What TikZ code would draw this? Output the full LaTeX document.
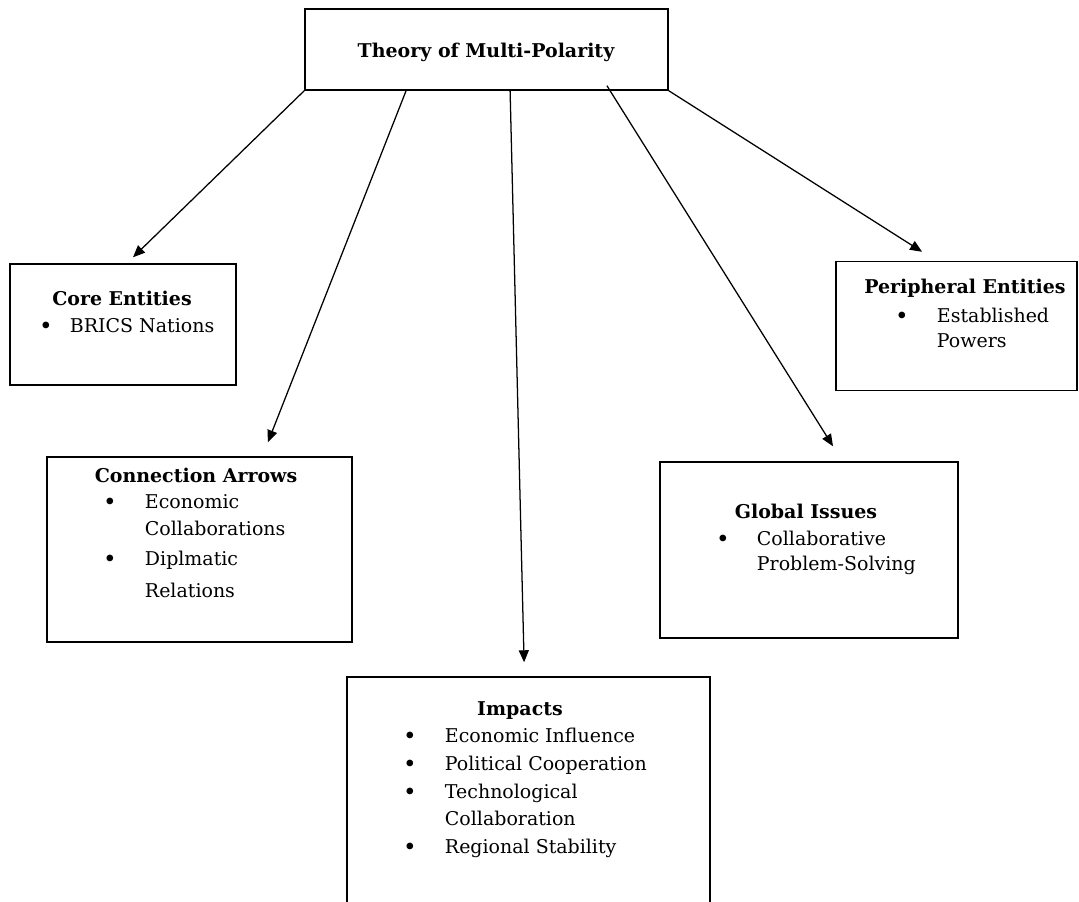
\documentclass[tikz,border=0pt]{standalone}
\usepackage{fontspec}
\setmainfont{DejaVu Serif}
\usetikzlibrary{arrows.meta}

% bullet hanging left of an item, #1 = distance to the text
\newcommand{\bul}[1]{\llap{\makebox[0pt]{\bfseries\textbullet}\hspace{#1}}}

\begin{document}
\begin{tikzpicture}[
        box/.style={draw, line width=1pt, inner sep=0pt},
        arr/.style={-{Triangle[length=0.3cm,width=0.25cm]}, line width=0.9pt},
        ttl/.style={anchor=base, font=\fontsize{13.5}{17}\selectfont\bfseries},
        itm/.style={anchor=base west},
        font=\fontsize{13.5}{17}\selectfont
    ]
        \useasboundingbox (0,0) rectangle (26.975,22.55);

        % boxes
        \node [box, minimum width=9.075cm, minimum height=2.025cm] (top) at (12.1625,21.3125) {};
        \node [box, minimum width=5.65cm, minimum height=3.025cm] (core) at (3.075,14.4375) {};
        \node [box, minimum width=7.625cm, minimum height=4.625cm] (conn) at (4.9875,8.8125) {};
        \node [box, minimum width=9.075cm, minimum height=5.825cm] (impacts) at (13.2125,2.7125) {};
        \node [box, minimum width=7.45cm, minimum height=4.4cm] (global) at (20.225,8.8) {};
        \node [box, minimum width=6.025cm, minimum height=3.225cm] (periph) at (23.9125,14.4) {};

        % texts
        \node [ttl] (top-t) at (12.15,21.1) {Theory of Multi-Polarity};

        \node [ttl] (core-t) at (3.05,14.9) {Core Entities};
        \node [itm] (core-1) at (1.625,14.225) {\bul{0.6cm}BRICS Nations};

        \node [ttl] (conn-t) at (4.9,10.475) {Connection Arrows};
        \node [itm] (conn-1) at (3.5,9.825) {\bul{0.875cm}Economic};
        \node [itm] (conn-2) at (3.5,9.15) {Collaborations};
        \node [itm] (conn-3) at (3.5,8.4) {\bul{0.875cm}Diplmatic};
        \node [itm] (conn-4) at (3.5,7.6) {Relations};

        \node [ttl] (imp-t) at (13.0,4.65) {Impacts};
        \node [itm] (imp-1) at (11.0,3.975) {\bul{0.875cm}Economic Influence};
        \node [itm] (imp-2) at (11.0,3.275) {\bul{0.875cm}Political Cooperation};
        \node [itm] (imp-3) at (11.0,2.575) {\bul{0.875cm}Technological};
        \node [itm] (imp-4) at (11.0,1.9) {Collaboration};
        \node [itm] (imp-5) at (11.0,1.2) {\bul{0.875cm}Regional Stability};

        \node [ttl] (glob-t) at (20.15,9.575) {Global Issues};
        \node [itm] (glob-1) at (18.8,8.9) {\bul{0.85cm}Collaborative};
        \node [itm] (glob-2) at (18.8,8.275) {Problem-Solving};

        \node [ttl] (per-t) at (24.125,15.2) {Peripheral Entities};
        \node [itm] (per-1) at (23.3,14.475) {\bul{0.875cm}Established};
        \node [itm] (per-2) at (23.3,13.85) {Powers};

        % arrows
        \draw [arr] (top.south west) -- ([xshift=0.25cm, yshift=0.15cm]core.north);
        \draw [arr] ([xshift=-2.01cm]top.south) -- ([xshift=1.71cm, yshift=0.35cm]conn.north);
        \draw [arr] ([xshift=0.59cm]top.south) -- ([xshift=-0.11cm, yshift=0.35cm]impacts.north);
        \draw [arr] ([xshift=3.01cm, yshift=0.125cm]top.south) -- ([xshift=0.6cm, yshift=0.375cm]global.north);
        \draw [arr] (top.south east) -- ([xshift=-0.86cm, yshift=0.225cm]periph.north);
    \end{tikzpicture}
\end{document}
